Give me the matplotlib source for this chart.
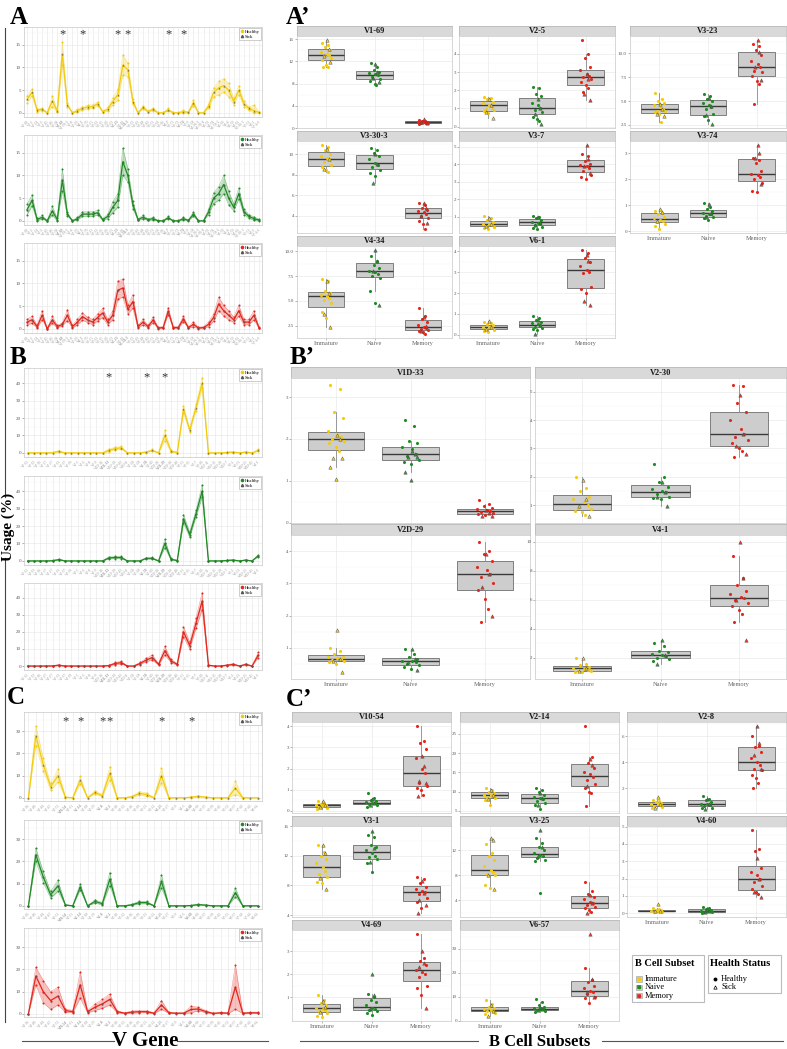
import matplotlib
matplotlib.use('Agg')
import matplotlib.pyplot as plt
from matplotlib.lines import Line2D
from matplotlib.patches import Rectangle
from matplotlib.ticker import MultipleLocator
import numpy as np

plt.rcParams['font.family'] = ['Liberation Serif', 'DejaVu Serif']

# ---------------- line-plot data (usage %, mean and half-range per gene) ----------------
A_genes = ['V1-18', 'V1-2', 'V1-24', 'V1-3', 'V1-45', 'V1-46', 'V1-58', 'V1-69', 'V1-69-2', 'V1-8',
           'V2-26', 'V2-5', 'V2-70', 'V3-11', 'V3-13', 'V3-15', 'V3-20', 'V3-21', 'V3-23', 'V3-30',
           'V3-30-3', 'V3-33', 'V3-43', 'V3-48', 'V3-49', 'V3-53', 'V3-64', 'V3-66', 'V3-7', 'V3-72',
           'V3-73', 'V3-74', 'V3-9', 'V4-28', 'V4-30-2', 'V4-30-4', 'V4-31', 'V4-34', 'V4-38-2', 'V4-39',
           'V4-4', 'V4-59', 'V4-61', 'V5-10-1', 'V5-51', 'V6-1', 'V7-4-1']
A_stars = ['V1-69', 'V2-5', 'V3-23', 'V3-30-3', 'V3-7', 'V3-74']
A_imm_mean = [3.0, 4.5, 0.6, 0.8, 0.0, 2.6, 0.4, 13.0, 1.8, 0.0, 0.5, 1.0, 1.3, 1.4, 2.0, 0.3, 0.8, 2.5, 4.0, 10.5,
              9.5, 2.5, 0.0, 1.2, 0.3, 0.8, 0.0, 0.0, 0.7, 0.0, 0.0, 0.3, 0.1, 2.2, 0.0, 0.0, 1.5, 4.5, 5.5, 6.0,
              5.0, 2.5, 5.0, 2.0, 1.0, 0.5, 0.1]
A_imm_spread = [0.8, 0.8, 0.3, 0.3, 0.1, 1.2, 0.3, 2.5, 0.4, 0.1, 0.3, 0.4, 0.4, 0.4, 0.4, 0.2, 0.4, 0.8, 1.2, 2.2,
                1.5, 0.6, 0.1, 0.4, 0.2, 0.3, 0.1, 0.1, 0.3, 0.1, 0.1, 0.3, 0.1, 0.6, 0.1, 0.1, 0.5, 1.0, 1.5, 1.5,
                1.5, 0.7, 1.0, 0.6, 0.4, 1.2, 0.2]
A_nav_mean = [2.5, 4.5, 0.3, 0.8, 0.0, 2.2, 0.3, 9.0, 1.5, 0.0, 0.5, 1.5, 1.5, 1.5, 1.8, 0.3, 1.0, 3.0, 4.5, 13.0,
              10.0, 3.5, 0.3, 0.8, 0.3, 0.5, 0.0, 0.0, 0.7, 0.0, 0.0, 0.5, 0.1, 1.5, 0.0, 0.0, 2.0, 5.0, 6.0, 8.0,
              5.0, 3.0, 6.0, 2.0, 1.0, 0.5, 0.2]
A_nav_spread = [1.2, 1.2, 0.3, 0.4, 0.1, 1.0, 0.3, 2.5, 0.4, 0.1, 0.3, 0.5, 0.5, 0.5, 0.5, 0.2, 0.5, 1.2, 1.5, 3.0,
                1.5, 0.8, 0.2, 0.4, 0.2, 0.3, 0.1, 0.1, 0.3, 0.1, 0.1, 0.3, 0.1, 0.5, 0.1, 0.1, 0.6, 1.2, 1.5, 2.0,
                1.5, 0.8, 1.2, 0.6, 0.4, 0.4, 0.2]
A_mem_mean = [1.5, 2.0, 0.5, 3.0, 0.0, 2.0, 0.5, 1.0, 3.0, 0.5, 1.5, 2.7, 2.0, 1.5, 2.5, 3.5, 1.5, 3.0, 8.5, 9.0,
              4.3, 6.0, 0.5, 1.5, 0.5, 2.0, 0.2, 0.3, 3.9, 0.3, 0.3, 2.2, 0.3, 1.0, 0.2, 0.3, 1.0, 2.5, 5.5, 4.0,
              3.0, 2.0, 4.0, 1.5, 1.5, 3.0, 0.3]
A_mem_spread = [0.6, 0.8, 0.3, 1.0, 0.1, 0.8, 0.3, 0.3, 1.2, 0.3, 0.6, 0.8, 0.6, 0.6, 0.8, 1.0, 0.6, 1.0, 2.0, 2.0,
                1.0, 1.5, 0.3, 0.6, 0.3, 0.6, 0.2, 0.2, 0.8, 0.2, 0.2, 0.6, 0.2, 0.5, 0.2, 0.2, 0.5, 0.8, 1.5, 1.2,
                1.0, 0.6, 1.2, 0.6, 0.6, 1.0, 0.2]

B_genes = ['V1-12', 'V1-13', 'V1-16', 'V1-17', 'V1-27', 'V1-33', 'V1-37', 'V1-39', 'V1-5', 'V1-6',
           'V1-8', 'V1-9', 'V1D-16', 'V1D-33', 'V1D-39', 'V1D-43', 'V1D-8', 'V2-24', 'V2-28', 'V2-30',
           'V2-40', 'V2D-26', 'V2D-29', 'V2D-30', 'V2D-40', 'V3-11', 'V3-15', 'V3-7', 'V3-20', 'V3D-11',
           'V3D-15', 'V3D-20', 'V3D-7', 'V5-2', 'V6-21', 'V6D-21', 'V6D-41', 'V4-1']
B_stars = ['V1D-33', 'V2-30', 'V2D-29']
B_imm_mean = [0, 0, 0, 0, 0.1, 1.0, 0, 0, 0, 0, 0, 0, 0, 1.5, 2.5, 3.0, 0, 0, 0, 0.5,
              1.5, 0, 10.0, 1.0, 0.2, 25.0, 13.0, 26.0, 40.0, 0, 0, 0, 0.3, 0.5, 0, 0.5, 0, 1.5]
B_imm_spread = [0.1, 0.1, 0.1, 0.1, 0.2, 0.4, 0.1, 0.1, 0.1, 0.1, 0.1, 0.1, 0.1, 0.8, 0.8, 0.8, 0.1, 0.1, 0.1, 0.3,
                0.5, 0.1, 3.0, 0.5, 0.2, 2.0, 1.0, 2.0, 3.0, 0.1, 0.1, 0.1, 0.2, 0.3, 0.1, 0.3, 0.1, 0.5]
B_nav_mean = [0, 0, 0, 0, 0.1, 0.8, 0, 0, 0, 0, 0, 0, 0, 1.7, 2.0, 2.0, 0, 0, 0, 1.5,
              1.5, 0, 10.0, 1.0, 0.2, 24.0, 15.0, 27.0, 40.0, 0, 0, 0, 0.3, 0.5, 0, 0.5, 0, 3.0]
B_nav_spread = [0.1, 0.1, 0.1, 0.1, 0.2, 0.4, 0.1, 0.1, 0.1, 0.1, 0.1, 0.1, 0.1, 0.6, 0.6, 0.6, 0.1, 0.1, 0.1, 0.4,
                0.5, 0.1, 2.5, 0.5, 0.2, 2.5, 1.5, 2.0, 3.5, 0.1, 0.1, 0.1, 0.2, 0.3, 0.1, 0.3, 0.1, 0.6]
B_mem_mean = [0, 0, 0, 0, 0.1, 0.5, 0, 0, 0, 0, 0, 0, 0, 0.3, 1.5, 2.0, 0, 0, 1.5, 3.5,
              5.0, 1.0, 9.0, 3.0, 1.0, 20.0, 12.0, 25.0, 38.0, 0.5, 0, 0, 0.5, 1.0, 0, 1.0, 0, 6.5]
B_mem_spread = [0.1, 0.1, 0.1, 0.1, 0.2, 0.3, 0.1, 0.1, 0.1, 0.1, 0.1, 0.1, 0.1, 0.2, 0.6, 0.8, 0.1, 0.1, 0.6, 1.0,
                1.5, 0.5, 2.5, 1.0, 0.5, 3.0, 2.0, 3.0, 5.0, 0.3, 0.1, 0.1, 0.3, 0.5, 0.1, 0.5, 0.1, 1.5]

C_genes = ['V1-36', 'V1-40', 'V1-44', 'V1-47', 'V1-51', 'V10-54', 'V2-11', 'V2-14', 'V2-18', 'V2-23',
           'V2-8', 'V3-1', 'V3-10', 'V3-12', 'V3-16', 'V3-19', 'V3-21', 'V3-22', 'V3-25', 'V3-27',
           'V3-9', 'V4-3', 'V4-60', 'V4-69', 'V5-37', 'V5-39', 'V5-45', 'V5-52', 'V6-57', 'V7-43',
           'V7-46', 'V8-61']
C_stars = ['V10-54', 'V2-14', 'V2-8', 'V3-1', 'V3-25', 'V4-60']
C_imm_mean = [0, 28, 15, 5, 10, 0.3, 0, 8, 0, 2.5, 1.0, 11, 0, 0, 0.5, 2.0, 1.5, 0, 10, 0,
              0, 0, 0.3, 0.7, 0.3, 0, 0, 0, 4.5, 0, 0, 0]
C_imm_spread = [0.1, 4.5, 3.0, 1.5, 3.0, 0.2, 0.1, 1.8, 0.1, 0.8, 0.5, 3.0, 0.1, 0.1, 0.3, 0.8, 0.8, 0.1, 3.5, 0.1,
                0.1, 0.1, 0.2, 0.3, 0.2, 0.1, 0.1, 0.1, 3.0, 0.1, 0.1, 0.1]
C_nav_mean = [0, 23, 13, 5, 9, 0.4, 0, 8.5, 0, 2.0, 1.0, 12, 0, 0, 0.5, 1.5, 1.5, 0, 11, 0,
              0, 0, 0.15, 0.6, 0.3, 0, 0, 0, 6, 0, 0, 0]
C_nav_spread = [0.1, 3.0, 2.5, 1.5, 2.5, 0.2, 0.1, 1.5, 0.1, 0.8, 0.5, 3.0, 0.1, 0.1, 0.3, 0.6, 0.6, 0.1, 3.0, 0.1,
                0.1, 0.1, 0.1, 0.3, 0.2, 0.1, 0.1, 0.1, 2.0, 0.1, 0.1, 0.1]
C_mem_mean = [0, 17, 10, 6, 8, 1.5, 1.0, 13, 1.0, 3.0, 4.5, 6.5, 1.0, 0.3, 0.8, 1.0, 1.0, 0.3, 4.0, 0.5,
              0.3, 0.3, 2.0, 2.2, 1.0, 0.2, 0.5, 0.3, 12, 0.3, 0.5, 0.5]
C_mem_spread = [0.1, 4.0, 5.0, 4.0, 4.0, 0.8, 0.5, 6.0, 0.5, 1.5, 2.0, 2.5, 0.5, 0.2, 0.5, 0.5, 0.5, 0.2, 2.0, 0.3,
                0.2, 0.2, 1.5, 0.8, 0.5, 0.1, 0.3, 0.2, 10.0, 0.2, 0.3, 0.3]

# ---------------- box-plot data (usage %, per gene: healthy / sick samples) ----------------
subsets = ['Immature', 'Naive', 'Memory']

Ap_genes = ['V1-69', 'V2-5', 'V3-23', 'V3-30-3', 'V3-7', 'V3-74', 'V4-34', 'V6-1']
Ap_yticks = [[0, 4, 8, 12, 16], [0, 1, 2, 3, 4], [2.5, 5.0, 7.5, 10.0], [4, 6, 8, 10],
             [1, 2, 3, 4, 5], [0, 1, 2, 3], [2.5, 5.0, 7.5, 10.0], [0, 1, 2, 3, 4]]
Ap_imm_h = [[15.3, 15.0, 14.6, 14.0, 13.6, 13.3, 13.1, 12.9, 12.6, 12.2, 11.4, 11.0, 10.9],
            [1.6, 1.55, 1.5, 1.35, 1.3, 1.2, 1.0, 0.95, 0.9, 0.85, 0.75],
            [5.8, 5.2, 5.0, 4.8, 4.6, 4.4, 4.2, 4.0, 3.9, 3.8, 3.6, 2.8],
            [10.9, 10.7, 10.4, 10.0, 9.8, 9.6, 9.5, 9.3, 9.0, 8.8, 8.5, 8.3],
            [1.05, 0.9, 0.8, 0.7, 0.6, 0.55, 0.5, 0.45, 0.4, 0.35, 0.3],
            [0.8, 0.7, 0.65, 0.55, 0.5, 0.45, 0.4, 0.35, 0.3, 0.2, 0.1],
            [7.2, 7.0, 6.0, 5.8, 5.6, 5.5, 5.3, 5.1, 4.8, 3.9, 3.3],
            [0.62, 0.55, 0.5, 0.45, 0.4, 0.38, 0.35, 0.3, 0.25, 0.2, 0.15]]
Ap_imm_s = [[15.8, 14.3, 13.0, 11.8], [1.5, 1.2, 0.8, 0.45], [4.7, 4.2, 3.6, 3.4], [10.5, 9.5, 8.6],
            [0.9, 0.6, 0.45], [0.85, 0.75, 0.4], [7.0, 5.8, 3.7, 2.4], [0.65, 0.4, 0.3]]
Ap_nav_h = [[11.7, 11.0, 10.4, 10.1, 9.9, 9.7, 9.5, 9.2, 8.9, 8.5, 8.0, 7.7],
            [2.2, 2.1, 1.8, 1.7, 1.3, 1.2, 1.0, 0.9, 0.8, 0.55, 0.4, 0.3],
            [5.7, 5.5, 5.2, 5.0, 4.8, 4.6, 4.4, 4.2, 3.6, 3.4, 3.0],
            [10.6, 10.4, 10.1, 9.8, 9.5, 9.2, 9.0, 8.8, 8.5, 8.2, 7.9],
            [1.05, 1.0, 0.9, 0.8, 0.7, 0.65, 0.6, 0.5, 0.4, 0.35, 0.3],
            [1.1, 0.95, 0.85, 0.78, 0.72, 0.68, 0.65, 0.6, 0.55, 0.5, 0.45],
            [9.5, 9.0, 8.6, 8.3, 8.0, 7.9, 7.7, 7.5, 7.3, 6.0, 4.8],
            [0.9, 0.8, 0.7, 0.6, 0.55, 0.5, 0.45, 0.4, 0.35, 0.3, 0.25]]
Ap_nav_s = [[11.5, 10.0, 9.0, 8.3], [1.5, 1.0, 0.7, 0.15], [5.3, 4.5, 3.5, 2.6], [10.0, 9.1, 7.2],
            [0.95, 0.7, 0.5], [1.05, 0.7, 0.55], [10.1, 9.0, 8.0, 4.6], [0.7, 0.45, 0.05]]
Ap_mem_h = [[1.4, 1.25, 1.2, 1.1, 1.05, 1.0, 0.95, 0.9, 0.85, 0.8],
            [4.75, 4.0, 3.75, 3.3, 3.1, 2.9, 2.8, 2.7, 2.6, 2.45, 2.3, 2.1, 1.9],
            [11.0, 10.8, 10.4, 9.8, 9.2, 8.9, 8.6, 8.2, 8.0, 7.6, 7.1, 6.8, 4.7],
            [5.2, 5.0, 4.7, 4.5, 4.4, 4.3, 4.2, 4.0, 3.8, 3.5, 3.2, 2.7],
            [4.6, 4.5, 4.2, 4.0, 3.95, 3.9, 3.8, 3.6, 3.4, 3.3, 3.15],
            [2.8, 2.75, 2.6, 2.3, 2.2, 2.15, 2.1, 2.0, 1.85, 1.55, 1.5],
            [4.3, 3.5, 3.2, 2.9, 2.6, 2.4, 2.3, 2.2, 2.1, 2.0, 1.9, 1.7],
            [4.05, 3.9, 3.7, 3.5, 3.3, 3.1, 3.0, 2.95, 2.3, 2.2, 2.0]]
Ap_mem_s = [[1.7, 1.1, 1.0, 0.9], [2.9, 2.6, 1.8, 1.45], [11.4, 10.2, 8.6, 7.2], [5.2, 4.7, 4.0, 3.3],
            [5.1, 4.3, 3.9, 3.5], [3.3, 3.0, 2.8, 1.8], [3.4, 2.5, 2.0], [3.8, 3.55, 1.6, 1.45]]

Bp_genes = ['V1D-33', 'V2-30', 'V2D-29', 'V4-1']
Bp_yticks = [[0, 1, 2, 3], [1, 2, 3, 4, 5], [1, 2, 3, 4], [2, 4, 6, 8, 10]]
Bp_imm_h = [[3.3, 3.2, 2.65, 2.5, 2.2, 2.1, 2.05, 2.0, 1.95, 1.9, 1.8, 1.72],
            [2.0, 1.6, 1.5, 1.3, 1.2, 1.1, 1.0, 0.9, 0.85, 0.8, 0.75, 0.65],
            [1.0, 0.9, 0.8, 0.72, 0.7, 0.68, 0.65, 0.62, 0.6, 0.55, 0.5],
            [2.0, 1.6, 1.5, 1.4, 1.3, 1.25, 1.2, 1.15, 1.1, 1.05, 1.0]]
Bp_imm_s = [[2.1, 2.0, 1.55, 1.55, 1.33, 1.05], [1.9, 1.2, 0.95, 0.6], [1.56, 0.65, 0.6, 0.23], [2.0, 1.3, 1.1]]
Bp_nav_h = [[2.45, 2.3, 1.95, 1.9, 1.8, 1.75, 1.65, 1.6, 1.5, 1.45, 1.4],
            [2.45, 2.0, 1.8, 1.65, 1.55, 1.5, 1.45, 1.4, 1.3, 1.25, 1.2],
            [0.95, 0.8, 0.7, 0.65, 0.6, 0.58, 0.55, 0.5, 0.45, 0.4, 0.35],
            [3.0, 2.8, 2.5, 2.4, 2.3, 2.2, 2.1, 2.0, 1.9, 1.8]]
Bp_nav_s = [[1.72, 1.65, 1.58, 1.57, 1.22, 1.02], [1.8, 1.45, 1.3, 0.95], [0.95, 0.65, 0.55, 0.3], [3.2, 2.2, 1.6]]
Bp_mem_h = [[0.55, 0.45, 0.4, 0.35, 0.32, 0.3, 0.28, 0.25, 0.22, 0.2, 0.18],
            [5.25, 5.2, 4.6, 4.3, 4.0, 3.7, 3.5, 3.4, 3.3, 3.2, 3.0, 2.9, 2.7],
            [4.3, 4.0, 3.9, 3.7, 3.5, 3.4, 3.3, 3.2, 3.0, 2.8, 2.5, 2.2, 1.8],
            [9.0, 7.5, 7.0, 6.6, 6.4, 6.2, 6.1, 6.0, 5.8, 5.6, 5.3, 5.0, 4.5]]
Bp_mem_s = [[0.3, 0.22, 0.17, 0.15], [4.9, 3.5, 3.1, 2.8], [3.9, 3.3, 2.9, 2.0], [10.0, 7.5, 6.0, 3.2]]

Cp_genes = ['V10-54', 'V2-14', 'V2-8', 'V3-1', 'V3-25', 'V4-60', 'V4-69', 'V6-57']
Cp_yticks = [[0, 1, 2, 3, 4], [5, 10, 15, 20, 25], [2, 4, 6], [4, 8, 12, 16], [4, 8, 12],
             [0, 1, 2, 3, 4, 5], [1, 2, 3], [0, 10, 20, 30]]
Cp_imm_h = [[0.45, 0.4, 0.35, 0.3, 0.28, 0.25, 0.22, 0.2, 0.15, 0.1],
            [11.0, 10.5, 10.0, 9.5, 9.2, 9.0, 8.8, 8.5, 8.2, 7.8, 6.5],
            [1.1, 1.0, 0.9, 0.85, 0.8, 0.75, 0.7, 0.65, 0.55, 0.45],
            [13.5, 12.5, 12.0, 11.5, 11.0, 10.5, 10.0, 9.5, 9.2, 8.5, 8.3],
            [13.0, 11.6, 11.0, 10.5, 9.5, 8.8, 8.5, 8.2, 8.0, 6.5, 6.0],
            [0.3, 0.25, 0.2, 0.18, 0.15, 0.12, 0.1, 0.08, 0.05],
            [1.1, 0.9, 0.75, 0.65, 0.55, 0.5, 0.45, 0.4, 0.3, 0.2, 0.15],
            [8.5, 7.0, 6.0, 5.5, 5.0, 4.5, 4.2, 4.0, 3.5, 3.0]]
Cp_imm_s = [[0.45, 0.3, 0.2], [10.5, 9.0, 8.0], [1.3, 0.8, 0.5], [13.5, 12.3, 9.0, 7.5], [14.0, 13.6, 8.0, 5.8],
            [0.55, 0.15, 0.1], [0.85, 0.6, 0.35], [6.5, 4.3, 2.0]]
Cp_nav_h = [[0.85, 0.6, 0.5, 0.45, 0.42, 0.4, 0.38, 0.35, 0.3, 0.2],
            [11.0, 10.5, 10.0, 9.0, 8.5, 8.3, 8.0, 7.5, 7.0, 6.5, 5.5],
            [1.4, 1.2, 1.1, 0.9, 0.8, 0.75, 0.7, 0.6, 0.5, 0.45],
            [14.8, 14.5, 13.5, 13.2, 12.8, 12.3, 12.0, 11.8, 11.5, 11.0, 9.8],
            [14.0, 13.2, 12.5, 12.0, 11.5, 11.3, 11.0, 10.8, 10.5, 10.2, 5.1],
            [0.35, 0.3, 0.25, 0.2, 0.15, 0.12, 0.1, 0.08, 0.05, 0.02],
            [1.15, 1.0, 0.9, 0.8, 0.65, 0.55, 0.5, 0.45, 0.4, 0.3, 0.25],
            [9.2, 8.0, 6.5, 5.8, 5.3, 5.0, 4.8, 4.5, 4.2, 3.8]]
Cp_nav_s = [[0.55, 0.4, 0.3], [9.5, 8.2, 6.5], [1.2, 0.8, 0.4], [15.3, 13.0, 11.2], [15.2, 12.5, 11.0],
            [0.25, 0.1, 0.05], [2.0, 1.1, 0.5], [6.0, 5.0, 4.5]]
Cp_mem_h = [[4.0, 3.3, 3.2, 2.9, 2.5, 2.0, 1.8, 1.3, 1.2, 1.1, 1.0, 0.75],
            [27.0, 19.0, 17.5, 16.0, 15.0, 14.5, 13.8, 13.0, 12.0, 11.0, 10.0, 9.5, 6.2],
            [6.0, 5.3, 5.2, 4.8, 4.3, 4.0, 3.8, 3.5, 3.4, 3.0, 2.8, 2.4, 2.0],
            [9.1, 8.8, 8.3, 7.8, 7.5, 7.3, 7.1, 6.8, 6.3, 5.8, 5.0],
            [7.0, 5.5, 5.0, 4.6, 4.2, 3.8, 3.6, 3.3, 3.0, 2.7, 2.5, 2.1],
            [4.8, 3.7, 3.6, 2.6, 2.4, 2.2, 2.0, 1.8, 1.6, 1.4, 1.2, 1.1],
            [3.75, 2.7, 2.6, 2.4, 2.2, 2.1, 2.0, 1.9, 1.5, 1.4, 1.1],
            [22.0, 17.0, 16.0, 14.5, 13.5, 12.5, 12.0, 11.0, 10.0, 9.5, 7.5]]
Cp_mem_s = [[2.6, 2.1, 1.4, 1.3, 0.7], [18.5, 17.0, 11.5], [6.8, 5.5, 4.6, 3.5], [8.6, 7.0, 6.0, 5.3, 4.3],
            [4.8, 3.5, 2.0], [3.2, 2.0, 1.2, 0.95], [3.0, 2.5, 2.3, 0.55], [36.0, 17.5, 12.0, 10.0]]

# ---------------- styling ----------------
W, H = 787, 1049
COL = {'Immature': '#F2CB0F', 'Naive': '#1F8B24', 'Memory': '#E5261C'}
SICK = '#555555'
GRID = '#E8E8E8'
JIT = [-0.08, 0.05, -0.02, 0.09, -0.11, 0.02, 0.07, -0.05, 0.11, -0.09, 0.0, 0.04, -0.06, 0.1, -0.03]

fig = plt.figure(figsize=(W / 100, H / 100), dpi=100)


def add_px(x0, y0, x1, y1, **kw):
    return fig.add_axes([x0 / W, 1 - y1 / H, (x1 - x0) / W, (y1 - y0) / H], **kw)


def style_axes(ax, yticks):
    ax.set_facecolor('white')
    for sp in ax.spines.values():
        sp.set_color('#C8C8C8')
        sp.set_linewidth(0.5)
    ax.set_yticks(yticks)
    if any(float(t) != int(t) for t in yticks):
        ax.set_yticklabels(['%.1f' % t for t in yticks])
    else:
        ax.set_yticklabels(['%d' % t for t in yticks])
    ax.yaxis.set_minor_locator(MultipleLocator((yticks[1] - yticks[0]) / 2))
    ax.tick_params(axis='y', which='major', labelsize=3.6, colors='#777777', length=1.2, width=0.4, pad=1)
    ax.tick_params(axis='y', which='minor', length=0)
    ax.tick_params(axis='y', labelcolor='#555555')
    ax.grid(True, axis='y', which='major', color=GRID, lw=0.45)
    ax.grid(True, axis='y', which='minor', color='#F2F2F2', lw=0.3)
    ax.grid(True, axis='x', which='major', color=GRID, lw=0.45)
    ax.set_axisbelow(True)


def line_panel(box, genes, mean, spread, color, stars, show_stars, ylim, yticks, star_y):
    ax = add_px(*box)
    n = len(genes)
    x = np.arange(n)
    m = np.array(mean, dtype=float)
    s = np.array(spread, dtype=float)
    lo = np.clip(m - s, 0, None)
    hi = m + s
    ax.fill_between(x, lo, hi, color=color, alpha=0.28, lw=0)
    ax.plot(x, lo, color=color, lw=0.3, alpha=0.6)
    ax.plot(x, hi, color=color, lw=0.3, alpha=0.6)
    ax.plot(x, m, color=color, lw=0.9)
    ax.scatter(x, hi, s=2.2, color=color, lw=0, zorder=3)
    ax.scatter(x, lo, s=2.2, color=color, lw=0, zorder=3)
    ax.scatter(x, m, s=2.2, color=color, lw=0, zorder=3)
    ax.scatter(x, m, s=2.0, marker='^', color=SICK, lw=0, zorder=4, alpha=0.8)
    ax.set_xlim(-0.6, n - 0.4)
    ax.set_ylim(*ylim)
    style_axes(ax, yticks)
    ax.set_xticks(x)
    ax.set_xticklabels(genes, rotation=45, ha='right', va='top', rotation_mode='anchor',
                       fontsize=2.6, color='#555555')
    for lab in ax.get_xticklabels():
        if lab.get_text() in stars:
            lab.set_fontweight('bold')
            lab.set_color('#222222')
    ax.tick_params(axis='x', length=1.0, width=0.3, pad=0.8, colors='#999999')
    if show_stars:
        for g in stars:
            ax.text(genes.index(g), star_y, '*', ha='center', va='center', fontsize=9,
                    color='#333333', transform=ax.get_xaxis_transform())
    handles = [Line2D([], [], marker='o', ls='', color=color, ms=1.6, label='Healthy'),
               Line2D([], [], marker='^', ls='', color=SICK, ms=1.6, label='Sick')]
    leg = ax.legend(handles=handles, loc='upper right', fontsize=3.4, frameon=True, fancybox=False,
                    edgecolor='#AAAAAA', borderpad=0.3, handletextpad=0.2, labelspacing=0.1,
                    handlelength=0.7, borderaxespad=0.25, framealpha=1)
    leg.get_frame().set_linewidth(0.4)
    return ax


def facet(box, strip_h, title, groups, yticks, show_x):
    x0, y0, x1, y1 = box
    sax = add_px(x0, y0 - strip_h, x1, y0)
    sax.set_facecolor('#D9D9D9')
    sax.set_xticks([])
    sax.set_yticks([])
    for sp in sax.spines.values():
        sp.set_color('#B5B5B5')
        sp.set_linewidth(0.5)
    sax.text(0.5, 0.48, title, ha='center', va='center', fontsize=6, fontweight='bold',
             color='#1A1A1A', transform=sax.transAxes)
    ax = add_px(x0, y0, x1, y1)
    alls = [list(h) + list(s) for h, s in groups]
    flat = [v for g in alls for v in g]
    lo, hi = min(flat), max(flat)
    pad = 0.05 * (hi - lo)
    bp = ax.boxplot(alls, positions=[0, 1, 2], widths=0.75, patch_artist=True, showfliers=False,
                    showcaps=False, whis=1.5)
    for b in bp['boxes']:
        b.set_facecolor('#CDCDCD')
        b.set_edgecolor('#6E6E6E')
        b.set_linewidth(0.6)
    for md in bp['medians']:
        md.set_color('#3A3A3A')
        md.set_linewidth(1.0)
    for wk in bp['whiskers']:
        wk.set_color('#8A8A8A')
        wk.set_linewidth(0.6)
    for i, (h, s) in enumerate(groups):
        c = COL[subsets[i]]
        xs = [i + JIT[k % len(JIT)] for k in range(len(h))]
        ax.scatter(xs, h, s=5, color=c, lw=0, zorder=4)
        xs2 = [i + JIT[(k + 5) % len(JIT)] * 0.8 for k in range(len(s))]
        ax.scatter(xs2, s, s=6, marker='^', facecolor=c, edgecolor='#4A4A4A', lw=0.35, zorder=5, alpha=0.9)
    ax.set_xlim(-0.6, 2.6)
    ax.set_ylim(lo - pad, hi + pad)
    style_axes(ax, yticks)
    ax.set_xticks([0, 1, 2])
    if show_x:
        ax.set_xticklabels(subsets, fontsize=4.6, color='#666666')
        ax.tick_params(axis='x', length=1.2, width=0.4, pad=1.2, colors='#888888')
        for lab in ax.get_xticklabels():
            lab.set_color('#666666')
    else:
        ax.set_xticklabels([])
        ax.tick_params(axis='x', length=0)
    return ax


# ---------------- left column: line plots ----------------
XL, XR = 24, 262
A_boxes = [(XL, 27, XR, 117), (XL, 135, XR, 225), (XL, 243, XR, 333)]
B_boxes = [(XL, 368, XR, 457), (XL, 476, XR, 565), (XL, 583, XR, 670)]
C_boxes = [(XL, 712, XR, 801), (XL, 820, XR, 909), (XL, 928, XR, 1017)]
A_series = [(A_imm_mean, A_imm_spread), (A_nav_mean, A_nav_spread), (A_mem_mean, A_mem_spread)]
B_series = [(B_imm_mean, B_imm_spread), (B_nav_mean, B_nav_spread), (B_mem_mean, B_mem_spread)]
C_series = [(C_imm_mean, C_imm_spread), (C_nav_mean, C_nav_spread), (C_mem_mean, C_mem_spread)]

for k in range(3):
    c = COL[subsets[k]]
    line_panel(A_boxes[k], A_genes, A_series[k][0], A_series[k][1], c, A_stars, k == 0,
               (-0.9, 18.9), [0, 5, 10, 15], 0.92)
    line_panel(B_boxes[k], B_genes, B_series[k][0], B_series[k][1], c, B_stars, k == 0,
               (-2.3, 48.6), [0, 10, 20, 30, 40], 0.89)
    line_panel(C_boxes[k], C_genes, C_series[k][0], C_series[k][1], c, C_stars, k == 0,
               (-1.4, 38.6), [0, 10, 20, 30], 0.90)

# ---------------- right column: faceted box plots ----------------
Ap_cols = [(297, 452), (459, 615), (630, 786)]
Ap_rows = [(36, 128), (141, 233), (246, 338)]
for i, g in enumerate(Ap_genes):
    r, cidx = divmod(i, 3)
    cx0, cx1 = Ap_cols[cidx]
    ry0, ry1 = Ap_rows[r]
    groups = [(Ap_imm_h[i], Ap_imm_s[i]), (Ap_nav_h[i], Ap_nav_s[i]), (Ap_mem_h[i], Ap_mem_s[i])]
    show_x = (r == 2) or (r == 1 and cidx == 2)
    facet((cx0, ry0, cx1, ry1), 10, g, groups, Ap_yticks[i], show_x)

Bp_cols = [(291, 530), (535, 786)]
Bp_rows = [(378, 523), (535, 679)]
for i, g in enumerate(Bp_genes):
    r, cidx = divmod(i, 2)
    cx0, cx1 = Bp_cols[cidx]
    ry0, ry1 = Bp_rows[r]
    groups = [(Bp_imm_h[i], Bp_imm_s[i]), (Bp_nav_h[i], Bp_nav_s[i]), (Bp_mem_h[i], Bp_mem_s[i])]
    facet((cx0, ry0, cx1, ry1), 11, g, groups, Bp_yticks[i], r == 1)

Cp_cols = [(292, 451), (460, 619), (627, 786)]
Cp_rows = [(722, 813), (826, 917), (930, 1021)]
for i, g in enumerate(Cp_genes):
    r, cidx = divmod(i, 3)
    cx0, cx1 = Cp_cols[cidx]
    ry0, ry1 = Cp_rows[r]
    groups = [(Cp_imm_h[i], Cp_imm_s[i]), (Cp_nav_h[i], Cp_nav_s[i]), (Cp_mem_h[i], Cp_mem_s[i])]
    show_x = (r == 2) or (r == 1 and cidx == 2)
    facet((cx0, ry0, cx1, ry1), 10, g, groups, Cp_yticks[i], show_x)

# ---------------- overlay: labels, legends, frame lines ----------------
ov = add_px(0, 0, W, H)
ov.set_xlim(0, W)
ov.set_ylim(H, 0)
ov.axis('off')
ov.patch.set_alpha(0)

for txt, x, y in [('A', 19, 17), ('A\u2019', 298, 17), ('B', 18, 357), ('B\u2019', 302, 357),
                  ('C', 16, 698), ('C\u2019', 299, 699)]:
    ov.text(x, y, txt, ha='center', va='center', fontsize=18, fontweight='bold', color='black')

ov.plot([5, 5], [28, 497], color='#444444', lw=0.8)
ov.plot([5, 5], [558, 1022], color='#444444', lw=0.8)
ov.text(8, 527, 'Usage (%)', rotation=90, ha='center', va='center', fontsize=11, fontweight='bold')
ov.text(145, 1041, 'V Gene', ha='center', va='center', fontsize=15, fontweight='bold')
ov.plot([22, 114], [1041, 1041], color='#555555', lw=0.8)
ov.plot([177, 268], [1041, 1041], color='#555555', lw=0.8)
ov.text(540, 1042, 'B Cell Subsets', ha='center', va='center', fontsize=12, fontweight='bold')
ov.plot([300, 478], [1041, 1041], color='#555555', lw=0.8)
ov.plot([602, 783], [1041, 1041], color='#555555', lw=0.8)

# legend boxes (bottom right)
ov.add_patch(Rectangle((632, 955), 72, 47, fill=False, edgecolor='#BBBBBB', lw=0.8))
ov.text(635, 964, 'B Cell Subset', ha='left', va='center', fontsize=7.5, fontweight='bold')
for k, name in enumerate(subsets):
    yy = 979 + k * 8.3
    c = COL[name]
    ov.add_patch(Rectangle((636, yy - 2.7), 5.5, 5.4, facecolor='#D0D0D0', edgecolor='#9A9A9A', lw=0.4))
    ov.add_patch(Rectangle((636.8, yy - 1.9), 3.9, 3.8, facecolor=c, edgecolor='none', alpha=0.75))
    ov.plot([638.75], [yy], marker='o', ms=1.6, color=c)
    ov.text(645, yy, name, ha='left', va='center', fontsize=6)
ov.add_patch(Rectangle((708, 955), 73, 38, fill=False, edgecolor='#BBBBBB', lw=0.8))
ov.text(710, 964, 'Health Status', ha='left', va='center', fontsize=7.5, fontweight='bold')
ov.plot([715], [979], marker='o', ms=1.8, color='black')
ov.text(721, 979, 'Healthy', ha='left', va='center', fontsize=6)
ov.plot([715], [987], marker='^', ms=2.4, mfc='none', mec='black', mew=0.5)
ov.text(721, 987, 'Sick', ha='left', va='center', fontsize=6)

fig.savefig('out.png', dpi=100, facecolor='white')
